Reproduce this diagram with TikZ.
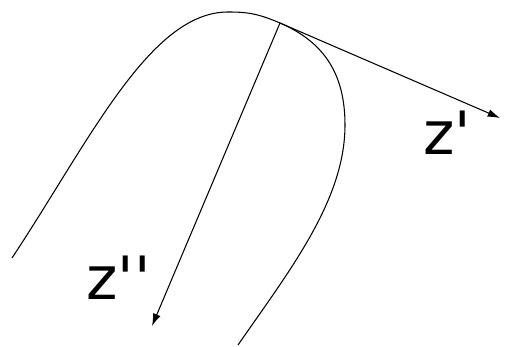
\documentclass[tikz,border=0pt]{standalone}
\usepackage{fontspec}
\newfontfamily\lblfont{DejaVu Sans}
\usetikzlibrary{arrows.meta}
\begin{document}
\begin{tikzpicture}[x=0.02cm, y=-0.02cm, line width=0.6pt,
    vec/.style={-{Latex[length=7pt,width=4.5pt]}},
    lbl/.style={font=\fontsize{34}{34}\lblfont, anchor=base west, inner sep=0pt}]
  \useasboundingbox (0,0) rectangle (505,347);

  % point of contact and arrow ends
  \coordinate (p) at (280,23);
  \coordinate (zp) at (500,118);
  \coordinate (zpp) at (152,326);

  % the curve, tangent to z' at p
  \draw (12,258) .. controls (90,140) and (150,12) .. (228,12)
        .. controls (246,12) and (257,13.1) .. (p)
        .. controls (325,42.4) and (345,75) .. (345,125)
        .. controls (345,200) and (290,270) .. (238,345);

  \draw[vec] (p) -- (zp);
  \draw[vec] (p) -- (zpp);

  % labels
  \node[lbl] (zplbl) at (423,155) {z'};
  \node[lbl] (zpplbl) at (86,300) {z''};
\end{tikzpicture}
\end{document}
